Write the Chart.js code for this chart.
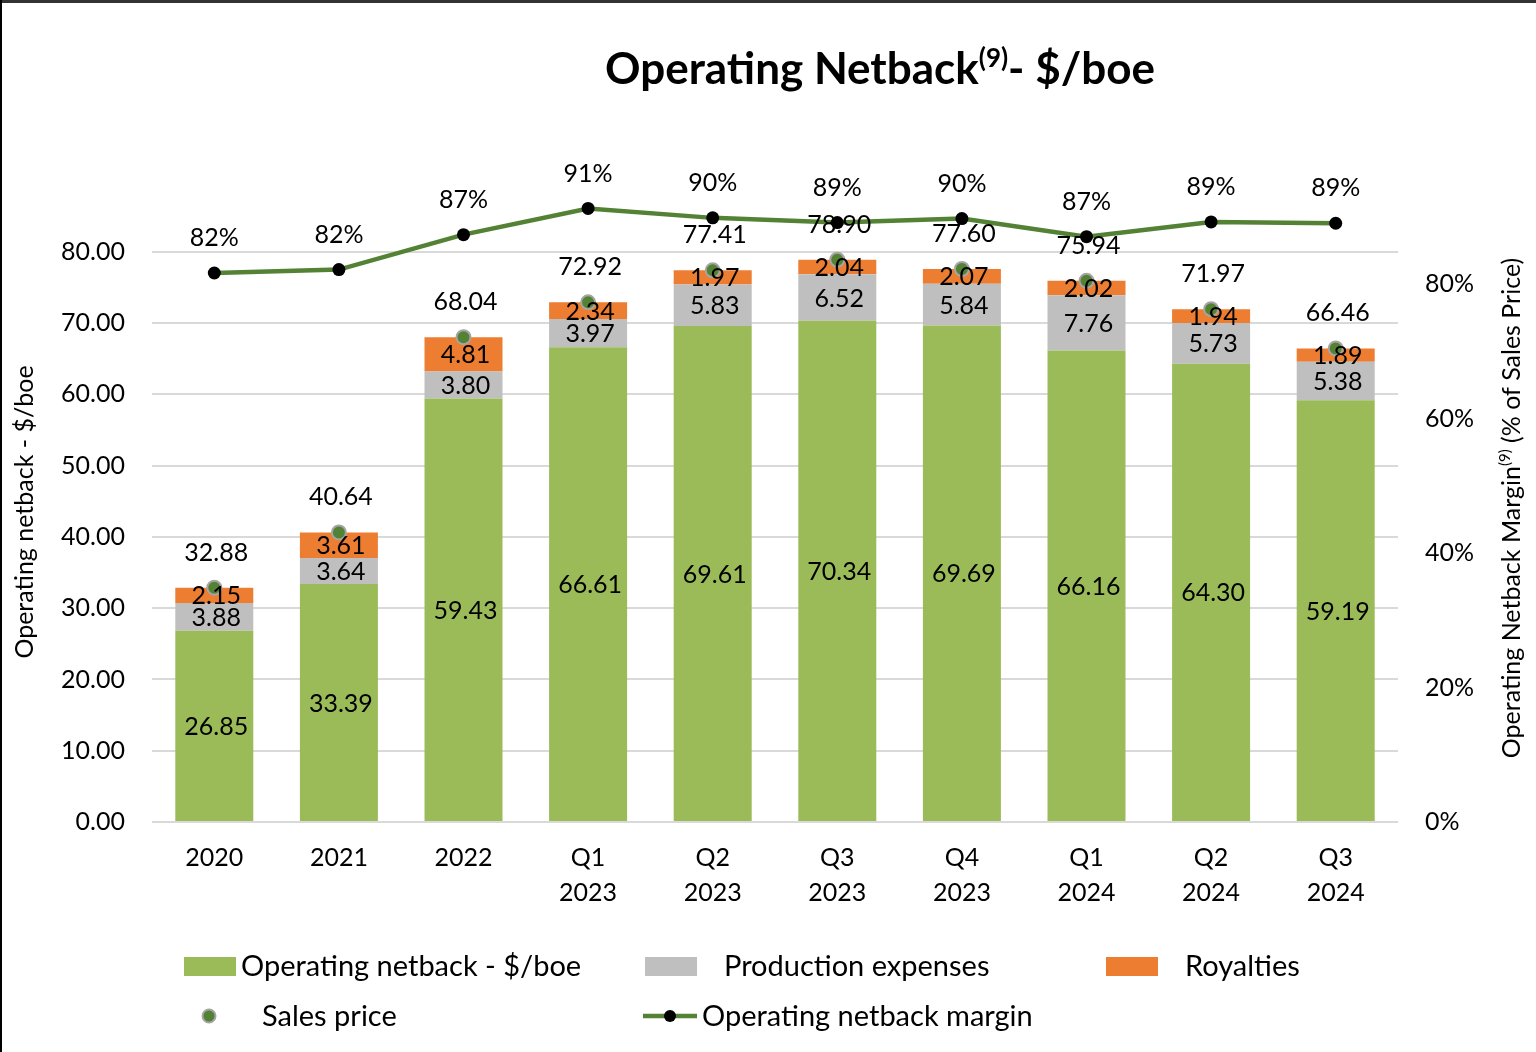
<!DOCTYPE html>
<html>
<head>
<meta charset="utf-8">
<title>Operating Netback - $/boe</title>
<script src="https://cdn.jsdelivr.net/npm/chart.js@4.4.1/dist/chart.umd.min.js"></script>
<style>
  html, body { margin: 0; padding: 0; background: #fff; overflow: hidden; }
  #wrap { position: relative; width: 1536px; height: 1052px; }
</style>
</head>
<body>
<div id="wrap"><canvas id="netbackChart"></canvas></div>
<script>
// ─── DATA ────────────────────────────────────────────
const categories = [['2020'], ['2021'], ['2022'], ['Q1', '2023'], ['Q2', '2023'],
                    ['Q3', '2023'], ['Q4', '2023'], ['Q1', '2024'], ['Q2', '2024'], ['Q3', '2024']];
const netback    = [26.85, 33.39, 59.43, 66.61, 69.61, 70.34, 69.69, 66.16, 64.30, 59.19];
const production = [3.88, 3.64, 3.80, 3.97, 5.83, 6.52, 5.84, 7.76, 5.73, 5.38];
const royalties  = [2.15, 3.61, 4.81, 2.34, 1.97, 2.04, 2.07, 2.02, 1.94, 1.89];
const salesPrice = [32.88, 40.64, 68.04, 72.92, 77.41, 78.90, 77.60, 75.94, 71.97, 66.46];
const margin     = [81.7, 82.2, 87.4, 91.3, 89.9, 89.2, 89.8, 87.1, 89.3, 89.1];
const leftTicks  = [0, 10, 20, 30, 40, 50, 60, 70, 80];
const rightTicks = [0, 20, 40, 60, 80];

const FONT = 'Lato, "Open Sans", sans-serif';

// draws a run of [text, font, raise] parts centred on (cx, cy), rotated by angle
function drawParts(ctx, parts, cx, cy, angle) {
  ctx.save();
  ctx.translate(cx, cy);
  ctx.rotate(angle);
  ctx.fillStyle = '#000';
  ctx.textBaseline = 'middle';
  ctx.textAlign = 'left';
  let total = 0;
  parts.forEach(p => { ctx.font = p[1]; total += ctx.measureText(p[0]).width; });
  let x = -total / 2;
  parts.forEach(p => {
    ctx.font = p[1];
    ctx.fillText(p[0], x, p[2]);
    x += ctx.measureText(p[0]).width;
  });
  ctx.restore();
}

// ─── BACKGROUND, FRAME, TITLES ───────────────────────
const frameAndTitle = {
  id: 'frameAndTitle',
  beforeDraw(chart) {
    const ctx = chart.ctx;
    ctx.save();
    ctx.fillStyle = '#fff';
    ctx.fillRect(0, 0, chart.width, chart.height);
    ctx.fillStyle = '#333';
    ctx.fillRect(0, 0, chart.width, 3);
    ctx.fillStyle = '#000';
    ctx.fillRect(0, 0, 2, chart.height);
    ctx.restore();
  },
  afterDraw(chart) {
    const ctx = chart.ctx;
    const big = 'bold 44px ' + FONT, sup = 'bold 26px ' + FONT;
    drawParts(ctx, [['Operating Netback', big, 0], ['(9)', sup, -11], ['- $/boe', big, 0]],
              880, 70, 0);

    const axisFont = '25px ' + FONT, axisSup = '15px ' + FONT;
    drawParts(ctx, [['Operating netback - $/boe', axisFont, 0]], 25, 512, -Math.PI / 2);
    drawParts(ctx, [['Operating Netback Margin', axisFont, 0], ['(9)', axisSup, -7],
                    [' (% of Sales Price)', axisFont, 0]], 1512, 508, -Math.PI / 2);
  }
};

// ─── VALUE LABELS ────────────────────────────────────
const valueLabels = {
  id: 'valueLabels',
  afterDatasetsDraw(chart) {
    const ctx = chart.ctx;
    ctx.save();
    ctx.font = '25px ' + FONT;
    ctx.fillStyle = '#000';
    ctx.textAlign = 'center';
    ctx.textBaseline = 'middle';
    chart.data.datasets.forEach((ds, i) => {
      const meta = chart.getDatasetMeta(i);
      meta.data.forEach((el, j) => {
        const v = ds.data[j];
        if (ds.type === 'bar') {
          ctx.fillText(v.toFixed(2), el.x + 2, (el.y + el.base) / 2 + 1);
        } else if (ds.yAxisID === 'y2') {
          ctx.fillText(Math.round(v) + '%', el.x, el.y - 35);
        } else {
          ctx.fillText(v.toFixed(2), el.x + 2, el.y - 35);
        }
      });
    });
    ctx.restore();
  }
};

// ─── LEGEND (Excel-like grid) ────────────────────────
const gridLegend = {
  id: 'gridLegend',
  afterDraw(chart) {
    const ctx = chart.ctx;
    const ds = chart.data.datasets;
    ctx.save();
    ctx.font = '29px ' + FONT;
    ctx.fillStyle = '#000';
    ctx.textBaseline = 'middle';
    ctx.textAlign = 'left';

    // row 1: bar swatches
    const row1 = [[0, 184, 241], [1, 645, 724], [2, 1106, 1185]];
    row1.forEach(([i, sx, tx]) => {
      ctx.fillStyle = ds[i].backgroundColor;
      ctx.fillRect(sx, 957, 52, 19);
      ctx.fillStyle = '#000';
      ctx.fillText(ds[i].label, tx, 967);
    });

    // row 2: sales price marker
    ctx.beginPath();
    ctx.arc(209, 1016, 6.5, 0, Math.PI * 2);
    ctx.fillStyle = ds[3].pointBackgroundColor;
    ctx.fill();
    ctx.lineWidth = 2;
    ctx.strokeStyle = ds[3].pointBorderColor;
    ctx.stroke();
    ctx.fillStyle = '#000';
    ctx.fillText(ds[3].label, 262, 1017);

    // row 2: margin line
    ctx.beginPath();
    ctx.moveTo(643, 1016);
    ctx.lineTo(697, 1016);
    ctx.lineWidth = 4.5;
    ctx.strokeStyle = ds[4].borderColor;
    ctx.stroke();
    ctx.beginPath();
    ctx.arc(670, 1016, 6, 0, Math.PI * 2);
    ctx.fillStyle = '#000';
    ctx.fill();
    ctx.fillText(ds[4].label, 702, 1017);
    ctx.restore();
  }
};

// ─── CHART ───────────────────────────────────────────
const tickFont = { family: FONT, size: 25 };

new Chart(document.getElementById('netbackChart'), {
  data: {
    labels: categories,
    datasets: [
      { type: 'bar', label: 'Operating netback - $/boe', data: netback,
        backgroundColor: '#9bbb59', stack: 'cost', yAxisID: 'y', order: 3,
        barPercentage: 0.626, categoryPercentage: 1 },
      { type: 'bar', label: 'Production expenses', data: production,
        backgroundColor: '#bfbfbf', stack: 'cost', yAxisID: 'y', order: 3,
        barPercentage: 0.626, categoryPercentage: 1 },
      { type: 'bar', label: 'Royalties', data: royalties,
        backgroundColor: '#ed7d31', stack: 'cost', yAxisID: 'y', order: 3,
        barPercentage: 0.626, categoryPercentage: 1 },
      { type: 'line', label: 'Sales price', data: salesPrice, showLine: false,
        pointRadius: 7, pointBackgroundColor: '#548235', pointBorderColor: '#a5a5a5',
        pointBorderWidth: 2, stack: 'price', yAxisID: 'y', order: 2 },
      { type: 'line', label: 'Operating netback margin', data: margin,
        borderColor: '#548235', borderWidth: 4.5, tension: 0,
        pointRadius: 6.5, pointBackgroundColor: '#000', pointBorderColor: '#000',
        pointBorderWidth: 0, yAxisID: 'y2', order: 1 },
    ],
  },
  options: {
    responsive: true,
    maintainAspectRatio: false,
    animation: false,
    devicePixelRatio: 1,
    layout: { padding: { top: 150, left: 0, right: 0, bottom: 0 } },
    plugins: {
      legend: { display: false },
      tooltip: { enabled: false },
      title: { display: false },
    },
    scales: {
      x: {
        stacked: true,
        grid: { display: false },
        border: { display: false },
        ticks: { color: '#000', font: { ...tickFont, lineHeight: 1.38 }, padding: 11,
                 maxRotation: 0, autoSkip: false },
        afterFit: s => { s.height = 230; },
      },
      y: {
        stacked: true,
        position: 'left',
        min: 0,
        max: 94.3,
        afterBuildTicks: s => { s.ticks = leftTicks.map(v => ({ value: v })); },
        ticks: { color: '#000', font: tickFont, padding: 27, callback: v => v.toFixed(2) },
        grid: { color: '#d9d9d9', lineWidth: 2, drawTicks: false },
        border: { display: false },
        afterFit: s => { s.width = 152; },
      },
      y2: {
        position: 'right',
        min: 0,
        max: 100,
        afterBuildTicks: s => { s.ticks = rightTicks.map(v => ({ value: v })); },
        ticks: { color: '#000', font: tickFont, padding: 27, callback: v => v + '%' },
        grid: { display: false, drawTicks: false },
        border: { display: false },
        afterFit: s => { s.width = 138; },
      },
    },
  },
  plugins: [frameAndTitle, valueLabels, gridLegend],
});
</script>
</body>
</html>
